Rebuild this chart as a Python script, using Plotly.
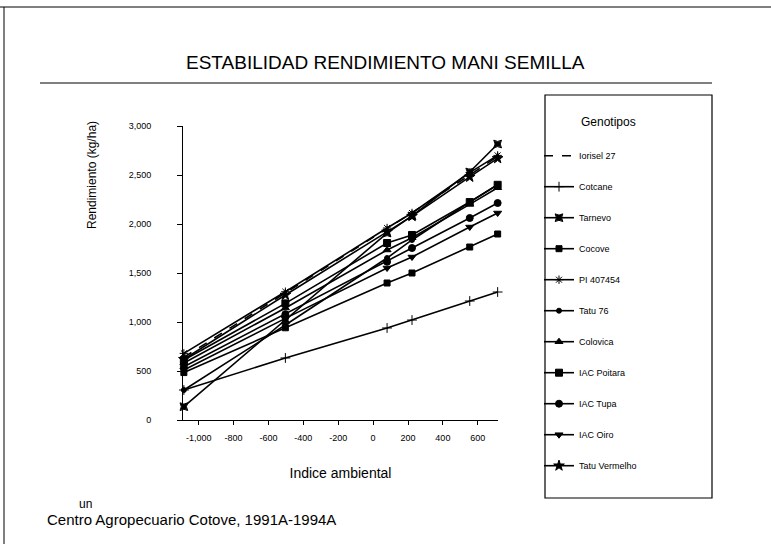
import plotly.graph_objects as go

env_index = [-1085, -503, 80, 223, 554, 714]

genotypes = ["Iorisel 27", "Cotcane", "Tarnevo", "Cocove", "PI 407454", "Tatu 76",
             "Colovica", "IAC Poitara", "IAC Tupa", "IAC Oiro", "Tatu Vermelho"]

iorisel_27 = [640, 1300, 1955, 2115, 2500, 2690]
cotcane = [306, 633, 939, 1020, 1214, 1306]
tarnevo = [136, 1020, 1908, 2082, 2531, 2816]
cocove = [484, 941, 1398, 1500, 1765, 1898]
pi_407454 = [680, 1309, 1959, 2112, 2525, 2700]
tatu_76 = [306, 969, 1653, 1837, 2224, 2400]
colovica = [582, 1143, 1735, 1860, 2200, 2370]
iac_poitara = [612, 1190, 1806, 1888, 2224, 2400]
iac_tupa = [544, 1080, 1615, 1755, 2061, 2214]
iac_oiro = [510, 1037, 1551, 1663, 1969, 2112]
tatu_vermelho = [620, 1276, 1920, 2080, 2480, 2670]

series = [iorisel_27, cotcane, tarnevo, cocove, pi_407454, tatu_76,
          colovica, iac_poitara, iac_tupa, iac_oiro, tatu_vermelho]

symbols = ["circle", "cross-thin-open", "star-square", "square", "asterisk-open", "circle",
           "triangle-up", "square", "circle", "triangle-down", "star"]
sizes = [0, 7, 7, 6, 7, 5, 7, 7, 7, 7, 8]
dashes = ["dash", "solid", "solid", "solid", "solid", "solid",
          "solid", "solid", "solid", "solid", "solid"]

x_ticks = [-1000, -800, -600, -400, -200, 0, 200, 400, 600]
x_ticktext = ["-1,000", "-800", "-600", "-400", "-200", "0", "200", "400", "600"]
y_ticks = [0, 500, 1000, 1500, 2000, 2500, 3000]
y_ticktext = ["0", "500", "1,000", "1,500", "2,000", "2,500", "3,000"]

W, H = 771, 544
L, R, T, B = 183, 273, 126, 124


def px(x):
    return (x - L) / (W - L - R)


def py(y):
    return (H - B - y) / (H - T - B)


fig = go.Figure()
for name, vals, sym, sz, dsh in zip(genotypes, series, symbols, sizes, dashes):
    fig.add_trace(go.Scatter(
        x=env_index, y=vals, name=name, legendgroup=name,
        mode="lines+markers" if sz > 0 else "lines",
        line=dict(color="black", width=1.6, dash=dsh),
        marker=dict(symbol=sym, size=sz, color="black",
                    line=dict(color="black", width=1)),
        cliponaxis=False,
    ))

fig.update_layout(
    width=W, height=H,
    margin=dict(l=L, r=R, t=T, b=B),
    paper_bgcolor="white", plot_bgcolor="white",
    font=dict(family="Liberation Sans, Arial", color="black"),
    showlegend=True,
    legend=dict(
        x=px(539), y=py(110), xanchor="left", yanchor="top",
        font=dict(size=9), tracegroupgap=12, maxheight=430,
        title=dict(text="            Genotipos<br> ", font=dict(size=12), side="top"),
        bgcolor="rgba(0,0,0,0)", itemwidth=30,
    ),
    xaxis=dict(range=[-1090, 716], tickvals=x_ticks, ticktext=x_ticktext,
               showgrid=False, zeroline=False, showline=True, linecolor="black",
               linewidth=1, ticks="outside", ticklen=4, tickcolor="black",
               tickfont=dict(size=9), ticklabelstandoff=5,
               title=dict(text="Indice ambiental", font=dict(size=14), standoff=26)),
    yaxis=dict(range=[0, 3000], tickvals=y_ticks, ticktext=y_ticktext,
               showgrid=False, zeroline=False, showline=True, linecolor="black",
               linewidth=1, ticks="outside", ticklen=5, tickcolor="black",
               tickfont=dict(size=9), ticklabelstandoff=24),
)

shapes = [
    # page frame (top and left)
    dict(type="line", xref="paper", yref="paper", x0=px(0), x1=px(771), y0=py(7), y1=py(7),
         line=dict(color="black", width=1)),
    dict(type="line", xref="paper", yref="paper", x0=px(4), x1=px(4), y0=py(7), y1=py(544),
         line=dict(color="black", width=1)),
    # rule under title
    dict(type="line", xref="paper", yref="paper", x0=px(40), x1=px(712), y0=py(83), y1=py(83),
         line=dict(color="black", width=1)),
    # legend box
    dict(type="rect", xref="paper", yref="paper", x0=px(545), x1=px(712), y0=py(498), y1=py(95),
         line=dict(color="black", width=1.2)),
]
fig.update_layout(shapes=shapes)

fig.add_annotation(text="ESTABILIDAD RENDIMIENTO MANI SEMILLA", xref="paper", yref="paper",
                   x=px(385), y=py(62), showarrow=False, font=dict(size=19),
                   xanchor="center", yanchor="middle")
fig.add_annotation(text="Rendimiento (kg/ha)", xref="paper", yref="paper",
                   x=px(92), y=py(175), showarrow=False, textangle=-90,
                   font=dict(size=12), xanchor="center", yanchor="middle")
fig.add_annotation(text="un", xref="paper", yref="paper",
                   x=px(77), y=py(504), showarrow=False, font=dict(size=12),
                   xanchor="left", yanchor="middle")
fig.add_annotation(text="Centro Agropecuario Cotove, 1991A-1994A", xref="paper", yref="paper",
                   x=px(45), y=py(519), showarrow=False, font=dict(size=15),
                   xanchor="left", yanchor="middle")

fig.write_html("out.html", config={"displayModeBar": False},
               post_script="document.body.style.margin='0';")
